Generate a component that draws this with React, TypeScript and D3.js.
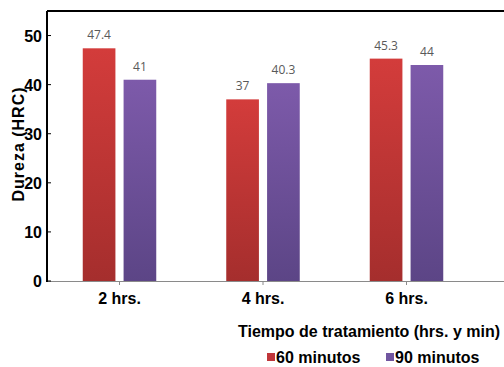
import React from "react";
import * as d3 from "d3";

const categories = ["2 hrs.", "4 hrs.", "6 hrs."];
const seriesNames = ["60 minutos", "90 minutos"];
const values60 = [47.4, 37, 45.3];
const values90 = [41, 40.3, 44];
const valueLabels60 = ["47.4", "37", "45.3"];
const valueLabels90 = ["41", "40.3", "44"];
const yTicks = [0, 10, 20, 30, 40, 50];

const W = 504;
const H = 367;
const left = 47;
const top = 11;
const bottom = 281;

export default function App() {
  const y = d3.scaleLinear().domain([0, 55]).range([bottom, top]);
  const x = d3.scaleBand<string>().domain(categories).range([47.75, 478.25]).paddingInner(0).paddingOuter(0);
  const inner = d3.scaleBand<string>().domain(seriesNames).range([35, 108.5]).paddingInner(0.2).paddingOuter(0);
  const series = [
    { name: seriesNames[0], vals: values60, labels: valueLabels60, grad: "gRed", color: "#C0363A" },
    { name: seriesNames[1], vals: values90, labels: valueLabels90, grad: "gPur", color: "#7156A0" },
  ];
  const font = "'Liberation Sans', Arial, sans-serif";
  return (
    <svg width={W} height={H} style={{ position: "absolute", left: 0, top: 0, background: "#fff" }} fontFamily={font}>
      <defs>
        <linearGradient id="gRed" x1="0" y1="0" x2="0" y2="1">
          <stop offset="0" stopColor="#D33C3B" />
          <stop offset="1" stopColor="#A52E2D" />
        </linearGradient>
        <linearGradient id="gPur" x1="0" y1="0" x2="0" y2="1">
          <stop offset="0" stopColor="#7D5AAA" />
          <stop offset="1" stopColor="#5C4586" />
        </linearGradient>
      </defs>
      {/* bars */}
      {categories.map((c, i) => (
        <g key={c}>
          {series.map((s) => {
            const bx = (x(c) as number) + (inner(s.name) as number);
            const bw = inner.bandwidth();
            const by = y(s.vals[i]);
            return (
              <g key={s.name}>
                <rect x={bx} y={by} width={bw} height={bottom - by} fill={`url(#${s.grad})`} />
                <text x={bx + bw / 2} y={by - 9} textAnchor="middle" fontSize={12} fill="#595959" fontFamily="'Open Sans', 'Liberation Sans', sans-serif">
                  {s.labels[i]}
                </text>
              </g>
            );
          })}
        </g>
      ))}
      {/* bottom axis */}
      <line x1={left} x2={W} y1={bottom + 0.5} y2={bottom + 0.5} stroke="#8a8a8a" strokeWidth={1} />
      {categories.map((c) => (
        <g key={c}>
          <line x1={(x(c) as number) + x.bandwidth() / 2} x2={(x(c) as number) + x.bandwidth() / 2} y1={bottom} y2={bottom + 4} stroke="#8a8a8a" />
          <text x={(x(c) as number) + x.bandwidth() / 2} y={304} textAnchor="middle" fontSize={16} fontWeight="bold" fill="#000">
            {c}
          </text>
        </g>
      ))}
      {/* frame */}
      <line x1={left} x2={W} y1={top} y2={top} stroke="#000" strokeWidth={2} />
      <line x1={left} x2={left} y1={top} y2={bottom + 1} stroke="#000" strokeWidth={2} />
      {yTicks.map((t) => (
        <g key={t}>
          <line x1={left} x2={left + 4} y1={y(t)} y2={y(t)} stroke="#000" strokeWidth={1} />
          <text x={42} y={y(t) + 6} textAnchor="end" fontSize={16} fontWeight="bold" fill="#000">
            {t}
          </text>
        </g>
      ))}
      <text transform={`translate(24,${144}) rotate(-90)`} textAnchor="middle" fontSize={16} fontWeight="bold" fill="#000" letterSpacing={1}>
        Dureza (HRC)
      </text>
      <text x={500} y={337} textAnchor="end" fontSize={16} fontWeight="bold" fill="#000">
        Tiempo de tratamiento (hrs. y min)
      </text>
      {/* legend */}
      {series.map((s, i) => {
        const lx = i === 0 ? 267 : 386;
        return (
          <g key={s.name}>
            <rect x={lx} y={353} width={8} height={8} fill={s.color} />
            <text x={lx + 9} y={363} fontSize={16} fontWeight="bold" fill="#000">
              {s.name}
            </text>
          </g>
        );
      })}
    </svg>
  );
}
